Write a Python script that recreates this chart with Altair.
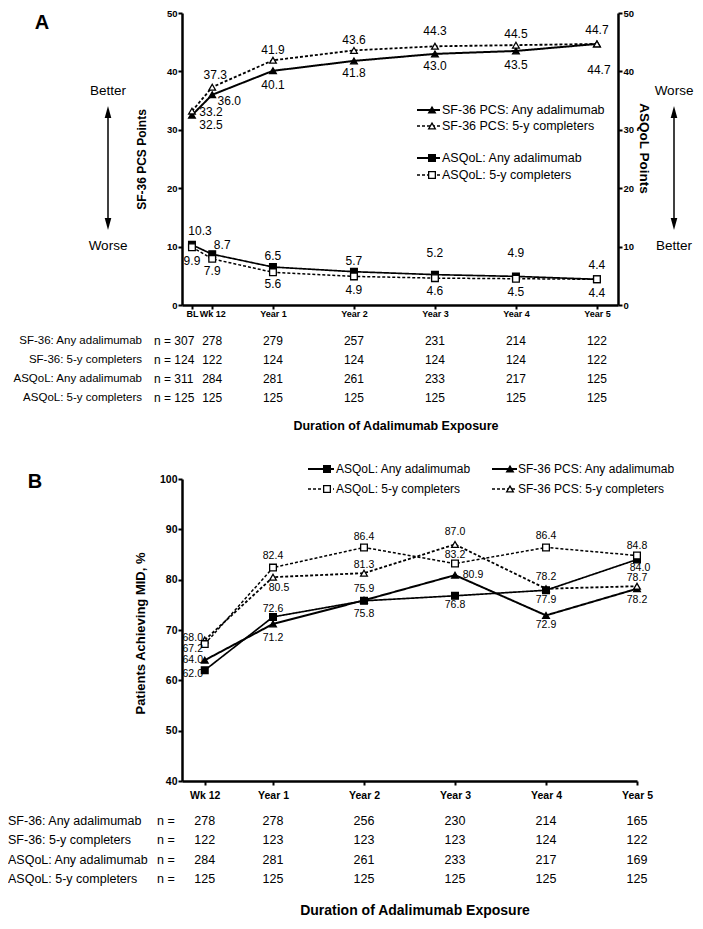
import altair as alt
import pandas as pd

# ---------------- Panel A values ----------------
A_TIMES = ["BL", "Wk 12", "Year 1", "Year 2", "Year 3", "Year 4", "Year 5"]
A_YEARS = [0, 0.25, 1, 2, 3, 4, 5]
A_SF36_ANY = [32.5, 36.0, 40.1, 41.8, 43.0, 43.5, 44.7]
A_SF36_5Y = [33.2, 37.3, 41.9, 43.6, 44.3, 44.5, 44.7]
A_ASQOL_ANY = [10.3, 8.7, 6.5, 5.7, 5.2, 4.9, 4.4]
A_ASQOL_5Y = [9.9, 7.9, 5.6, 4.9, 4.6, 4.5, 4.4]

A_N_SF36_ANY = [307, 278, 279, 257, 231, 214, 122]
A_N_SF36_5Y = [124, 122, 124, 124, 124, 124, 122]
A_N_ASQOL_ANY = [311, 284, 281, 261, 233, 217, 125]
A_N_ASQOL_5Y = [125, 125, 125, 125, 125, 125, 125]

# ---------------- Panel B values ----------------
B_TIMES = ["Wk 12", "Year 1", "Year 2", "Year 3", "Year 4", "Year 5"]
B_YEARS = [0.25, 1, 2, 3, 4, 5]
B_ASQOL_ANY = [62.0, 72.6, 75.8, 76.8, 77.9, 84.0]
B_ASQOL_5Y = [67.2, 82.4, 86.4, 83.2, 86.4, 84.8]
B_SF36_ANY = [64.0, 71.2, 75.9, 80.9, 72.9, 78.2]
B_SF36_5Y = [68.0, 80.5, 81.3, 87.0, 78.2, 78.7]

B_N_SF36_ANY = [278, 278, 256, 230, 214, 165]
B_N_SF36_5Y = [122, 123, 123, 123, 124, 122]
B_N_ASQOL_ANY = [284, 281, 261, 233, 217, 169]
B_N_ASQOL_5Y = [125, 125, 125, 125, 125, 125]

SERIES = ["SF-36 PCS: Any adalimumab", "SF-36 PCS: 5-y completers",
          "ASQoL: Any adalimumab", "ASQoL: 5-y completers"]
ROW_NAMES = ["SF-36: Any adalimumab", "SF-36: 5-y completers",
             "ASQoL: Any adalimumab", "ASQoL: 5-y completers"]

# ---------------- styles ----------------
FONT = "Liberation Sans"
SHAPES = ["triangle-up", "triangle-up", "square", "square"]
FILLS = ["black", "white", "black", "white"]
DASHES = [[1, 0], [3, 2], [1, 0], [3, 2]]
WIDTHS = [2.0, 1.5, 2.0, 1.5]
MSIZE = 45

# value-label pixel offsets (dx, dy) per series, per time point
A_OFF = {
    SERIES[0]: ([19, 17, 0, 0, 0, 0, 2], [10, 6, 14, 12, 12, 14, 26]),
    SERIES[1]: ([19, 3, 0, 0, 0, 0, 0], [1, -12, -10, -10, -15, -11, -14]),
    SERIES[2]: ([8, 10, 0, 0, 0, 0, 0], [-14, -9, -11, -11, -22, -23, -14]),
    SERIES[3]: ([0, 0, 0, 0, 0, 0, 0], [14, 12, 12, 14, 13, 13, 14]),
}
B_OFF = {
    SERIES[0]: ([-12, 0, 0, 18, 0, 0], [0, 14, -11, 0, 10, 11]),
    SERIES[1]: ([-12, 6, 0, 0, 0, 0], [-2, 11, -8, -12, -12, -8]),
    SERIES[2]: ([-12, 0, 0, 0, 0, 3], [4, -8, 13, 9, 10, 8]),
    SERIES[3]: ([-12, 0, 0, 0, 0, 0], [5, -12, -10, -9, -11, -10]),
}

WA, HA = 436, 292
XDOM_A = [-0.123, 5.26]
YDOM_A = [0, 50]
WB, HB = 455, 302
XDOM_B = [0, 5]
YDOM_B = [40, 100]

ONE = pd.DataFrame({"k": [0]})


def series_df(xs, vals_by_series, offsets, px_x, px_y):
    rows = []
    for name, vals in vals_by_series.items():
        dxs, dys = offsets[name]
        for x, v, dx, dy in zip(xs, vals, dxs, dys):
            rows.append(dict(series=name, x=x, value=v,
                             lx=x + dx / px_x, ly=v - dy / px_y))
    return pd.DataFrame(rows)


def label_expr(vals, names):
    parts = [f"datum.value == {v} ? '{n}'" for v, n in zip(vals, names)]
    return " : ".join(parts) + " : ''"


def axis_common(**kw):
    base = dict(domainColor="black", domainWidth=2.5, tickColor="black",
                tickWidth=2, tickSize=4, labelFont=FONT, labelFontWeight="bold",
                labelColor="black", grid=False, labelFlush=False,
                labelOverlap=False, titleFont=FONT, titleFontWeight="bold",
                titleColor="black")
    base.update(kw)
    return alt.Axis(**base)


dash_enc = alt.StrokeDash("series:N", scale=alt.Scale(domain=SERIES, range=DASHES), legend=None)
width_enc = alt.StrokeWidth("series:N", scale=alt.Scale(domain=SERIES, range=WIDTHS), legend=None)
shape_enc = alt.Shape("series:N", scale=alt.Scale(domain=SERIES, range=SHAPES), legend=None)
fill_enc = alt.Fill("series:N", scale=alt.Scale(domain=SERIES, range=FILLS), legend=None)


def series_layer(df, xf, yf, label_size):
    line = alt.Chart(df).mark_line(color="black").encode(
        x=xf("x"), y=yf("value"), strokeDash=dash_enc, strokeWidth=width_enc,
        order="x:Q")
    pts = alt.Chart(df).mark_point(size=MSIZE, stroke="black", strokeWidth=1.3,
                                   opacity=1, fillOpacity=1).encode(
        x=xf("x"), y=yf("value"), shape=shape_enc, fill=fill_enc)
    lbl = alt.Chart(df).mark_text(font=FONT, fontSize=label_size, color="black",
                                  baseline="middle", align="center").encode(
        x=xf("lx"), y=yf("ly"), text=alt.Text("value:Q", format=".1f"))
    return alt.layer(line, pts, lbl)


def txt(x, y, s, **kw):
    opts = dict(font=FONT, color="black", baseline="middle", align="center")
    opts.update(kw)
    return alt.Chart(ONE).mark_text(text=s, **opts).encode(x=alt.value(x), y=alt.value(y))


def arrow(x, ytop, ybot):
    r = 6
    head_up = "M0,-1L0.55,1L-0.55,1Z"
    head_dn = "M0,1L0.55,-1L-0.55,-1Z"
    shaft = alt.Chart(ONE).mark_rule(color="black", strokeWidth=1.5).encode(
        x=alt.value(x), y=alt.value(ytop + r), y2=alt.value(ybot - r))
    h1 = alt.Chart(ONE).mark_point(shape=head_up, filled=True, color="black",
                                   size=(2 * r) ** 2, opacity=1).encode(
        x=alt.value(x), y=alt.value(ytop + r))
    h2 = alt.Chart(ONE).mark_point(shape=head_dn, filled=True, color="black",
                                   size=(2 * r) ** 2, opacity=1).encode(
        x=alt.value(x), y=alt.value(ybot - r))
    return [shaft, h1, h2]


def legend_entry(x0, x1, xm, tx, y, idx, fs):
    rule = alt.Chart(ONE).mark_rule(color="black", strokeWidth=WIDTHS[idx],
                                    strokeDash=DASHES[idx]).encode(
        x=alt.value(x0), x2=alt.value(x1), y=alt.value(y))
    pt = alt.Chart(ONE).mark_point(shape=SHAPES[idx], fill=FILLS[idx], stroke="black",
                                   strokeWidth=1.3, size=MSIZE, opacity=1,
                                   fillOpacity=1).encode(x=alt.value(xm), y=alt.value(y))
    t = txt(tx, y, SERIES[idx], align="left", fontSize=fs)
    return [rule, pt, t]


# =============================== PANEL A ===============================
pxA = WA / (XDOM_A[1] - XDOM_A[0])
pyA = HA / (YDOM_A[1] - YDOM_A[0])

x_axis_A = axis_common(values=A_YEARS, labelExpr=label_expr(A_YEARS, A_TIMES),
                       labelFontSize=9, labelPadding=0, title=None)
yl_axis_A = axis_common(values=[0, 10, 20, 30, 40, 50], labelFontSize=9.5, labelPadding=1,
                        title="SF-36 PCS Points", titleFontSize=12, titleX=-41, titleY=146,
                        titleAlign="center", titleBaseline="middle", titleAngle=270)
yr_axis_A = axis_common(orient="right", values=[0, 10, 20, 30, 40, 50], labelFontSize=9.5,
                        labelPadding=1, title="ASQoL Points", titleFontSize=13.5,
                        titleX=25, titleY=135, titleAlign="center",
                        titleBaseline="middle", titleAngle=90)


def xA(f):
    return alt.X(f"{f}:Q", scale=alt.Scale(domain=XDOM_A, nice=False, zero=False),
                 axis=x_axis_A, title=None)


def yAL(f):
    return alt.Y(f"{f}:Q", scale=alt.Scale(domain=YDOM_A, nice=False),
                 axis=yl_axis_A, title="SF-36 PCS Points")


def yAR(f):
    return alt.Y(f"{f}:Q", scale=alt.Scale(domain=YDOM_A, nice=False),
                 axis=yr_axis_A, title="ASQoL Points")


dfA_sf = series_df(A_YEARS, {SERIES[0]: A_SF36_ANY, SERIES[1]: A_SF36_5Y}, A_OFF, pxA, pyA)
dfA_aq = series_df(A_YEARS, {SERIES[2]: A_ASQOL_ANY, SERIES[3]: A_ASQOL_5Y}, A_OFF, pxA, pyA)

leftA = series_layer(dfA_sf, xA, yAL, 12)
rightA = series_layer(dfA_aq, xA, yAR, 12)

decoA = [txt(-140, 10, "A", fontSize=20, fontWeight="bold"),
         txt(-74, 78, "Better", fontSize=13.5),
         txt(-74, 233, "Worse", fontSize=13.5),
         txt(492, 78, "Worse", fontSize=13.5),
         txt(492, 233, "Better", fontSize=13.5)]
decoA += arrow(-74, 93, 217) + arrow(492, 93, 217)
for i, yy in enumerate([97, 113, 145, 162]):
    decoA += legend_entry(235, 258, 250, 260, yy, i, 12.5)

tableA = []
A_ROWS = [A_N_SF36_ANY, A_N_SF36_5Y, A_N_ASQOL_ANY, A_N_ASQOL_5Y]
A_ROW_Y = [328, 347, 366, 385]
for name, ns, yy in zip(ROW_NAMES, A_ROWS, A_ROW_Y):
    tableA.append(txt(-40, yy, name, align="right", fontSize=11.5))
    d0 = pd.DataFrame({"x": [A_YEARS[0]], "n": [f"n = {ns[0]}"]})
    tableA.append(alt.Chart(d0).mark_text(font=FONT, fontSize=12, align="left", dx=-38,
                                          color="black").encode(
        x=xA("x"), y=alt.value(yy), text="n:N"))
    d = pd.DataFrame({"x": A_YEARS[1:], "n": ns[1:]})
    tableA.append(alt.Chart(d).mark_text(font=FONT, fontSize=12, color="black").encode(
        x=xA("x"), y=alt.value(yy), text="n:Q"))
tableA.append(txt(214, 413, "Duration of Adalimumab Exposure", fontSize=12.5, fontWeight="bold"))

chartA = alt.layer(leftA, rightA, *decoA, *tableA).resolve_scale(
    y="independent").properties(width=WA, height=HA)

# =============================== PANEL B ===============================
pxB = WB / (XDOM_B[1] - XDOM_B[0])
pyB = HB / (YDOM_B[1] - YDOM_B[0])

x_axis_B = axis_common(values=B_YEARS, labelExpr=label_expr(B_YEARS, B_TIMES),
                       labelFontSize=10.5, labelPadding=5, title=None)
y_axis_B = axis_common(values=[40, 50, 60, 70, 80, 90, 100], labelFontSize=10.5,
                       labelPadding=1, title="Patients Achieving MID, %",
                       titleFontSize=13, titleX=-42, titleY=154, titleAlign="center",
                       titleBaseline="middle", titleAngle=270)


def xB(f):
    return alt.X(f"{f}:Q", scale=alt.Scale(domain=XDOM_B, nice=False, zero=False),
                 axis=x_axis_B, title=None)


def yB(f):
    return alt.Y(f"{f}:Q", scale=alt.Scale(domain=YDOM_B, nice=False, zero=False),
                 axis=y_axis_B, title="Patients Achieving MID, %")


dfB = series_df(B_YEARS, {SERIES[0]: B_SF36_ANY, SERIES[1]: B_SF36_5Y,
                          SERIES[2]: B_ASQOL_ANY, SERIES[3]: B_ASQOL_5Y}, B_OFF, pxB, pyB)
seriesB = series_layer(dfB, xB, yB, 10.5)

decoB = [txt(-147, 3, "B", fontSize=20, fontWeight="bold")]
# legend: column 1 = ASQoL, column 2 = SF-36
decoB += legend_entry(126, 152, 145, 154, -10, 2, 12)
decoB += legend_entry(126, 152, 145, 154, 10, 3, 12)
decoB += legend_entry(310, 335, 328, 336, -10, 0, 12)
decoB += legend_entry(310, 335, 328, 336, 10, 1, 12)

tableB = []
B_ROWS = [B_N_SF36_ANY, B_N_SF36_5Y, B_N_ASQOL_ANY, B_N_ASQOL_5Y]
B_ROW_Y = [342, 361, 381, 400]
for name, ns, yy in zip(ROW_NAMES, B_ROWS, B_ROW_Y):
    tableB.append(txt(-174, yy, name, align="left", fontSize=12.5))
    tableB.append(txt(-25, yy, "n =", align="left", fontSize=12.5))
    d = pd.DataFrame({"x": B_YEARS, "n": ns})
    tableB.append(alt.Chart(d).mark_text(font=FONT, fontSize=12.5, color="black").encode(
        x=xB("x"), y=alt.value(yy), text="n:Q"))
tableB.append(txt(233, 432, "Duration of Adalimumab Exposure", fontSize=14, fontWeight="bold"))

chartB = alt.layer(seriesB, *decoB, *tableB).properties(width=WB, height=HB)

chart = alt.vconcat(chartA, chartB, spacing=30).properties(
    padding={"left": 0, "top": 0, "right": 0, "bottom": 0}
).configure_view(stroke=None)

chart.save("out.html", embed_options={"renderer": "svg", "actions": False})
